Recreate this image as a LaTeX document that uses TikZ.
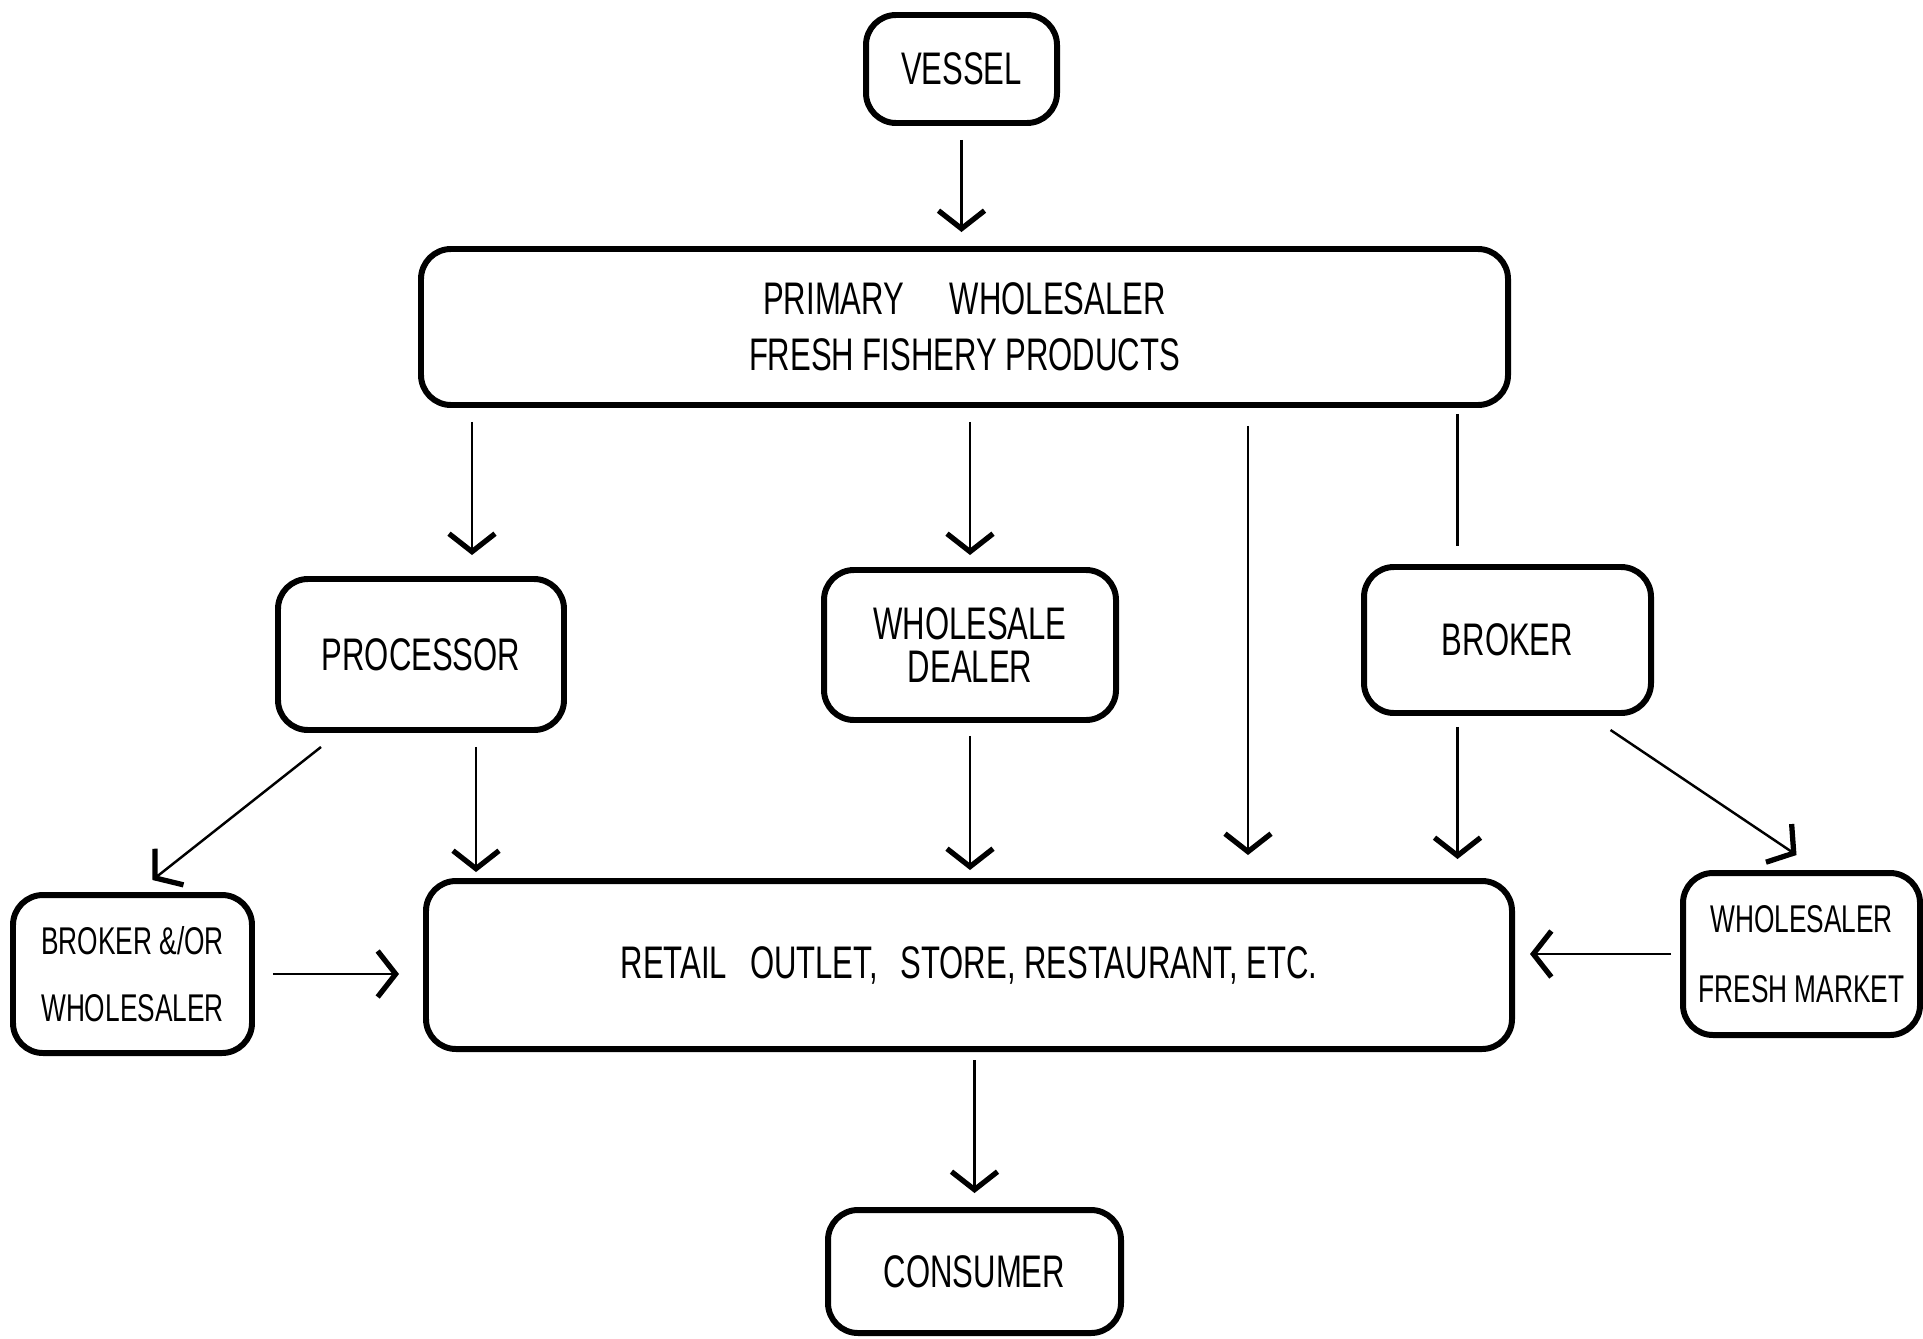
\documentclass[tikz,border=0pt]{standalone}
\usepackage{fontspec}
\newfontfamily\handfont[FakeStretch=0.68]{Liberation Sans}
\usetikzlibrary{arrows.meta}

\begin{document}
\begin{tikzpicture}[
    stage/.style={draw, line width=1.7pt, rounded corners=0.3cm, align=center, inner sep=0pt,
        font=\handfont\fontsize{13}{16}\selectfont},
    small/.style={font=\handfont\fontsize{11}{14}\selectfont},
    flow/.style={line width=0.7pt, -{Straight Barb[length=1.8mm,width=4.6mm,line width=1.5pt]},
        shorten <=0.14cm}
]

    % Fix the page size
    \useasboundingbox (0,0) rectangle (19.23,13.38);

    % Define the boxes
    \node[stage, minimum width=1.91cm, minimum height=1.08cm] (vessel) at (9.615,12.69) {VESSEL};
    \node[stage, minimum width=10.87cm, minimum height=1.56cm] (primary) at (9.645,10.11)
        {PRIMARY\quad WHOLESALER\\FRESH FISHERY PRODUCTS};
    \node[stage, minimum width=2.86cm, minimum height=1.51cm] (processor) at (4.21,6.835) {PROCESSOR};
    \node[stage, minimum width=2.92cm, minimum height=1.50cm] (dealer) at (9.70,6.93) {WHOLESALE\\[-4pt]DEALER};
    \node[stage, minimum width=2.87cm, minimum height=1.46cm] (broker) at (15.075,6.98) {BROKER};
    \node[stage, minimum width=10.86cm, minimum height=1.68cm] (retail) at (9.69,3.73)
        {RETAIL\enspace OUTLET,\enspace STORE, RESTAURANT, ETC.};
    \node[stage, small, minimum width=2.39cm, minimum height=1.58cm] (brokwh) at (1.325,3.64) {BROKER \&/OR\\[5pt]WHOLESALER};
    \node[stage, small, minimum width=2.37cm, minimum height=1.62cm] (freshmkt) at (18.015,3.84) {WHOLESALER\\[6pt]FRESH MARKET};
    \node[stage, minimum width=2.93cm, minimum height=1.23cm] (consumer) at (9.745,0.665) {CONSUMER};

    % Vessel to primary wholesaler
    \draw[flow, shorten >=0.14cm] (vessel.south) -- (vessel.south |- primary.north);

    % Out of the primary wholesaler
    \draw[flow, shorten >=0.21cm] ([xshift=0.51cm]processor.north |- primary.south) -- ([xshift=0.51cm]processor.north);
    \draw[flow, shorten >=0.12cm] (dealer.north |- primary.south) -- (dealer.north);
    \draw[flow, shorten <=0.18cm, shorten >=0.23cm] ([xshift=2.79cm]retail.north |- primary.south) -- ([xshift=2.79cm]retail.north);
    \draw[line width=0.7pt, shorten <=0.06cm, shorten >=0.18cm] ([xshift=-0.5cm]broker.north |- primary.south) -- ([xshift=-0.5cm]broker.north);

    % Into the retail outlet
    \draw[flow, shorten >=0.06cm] ([xshift=0.55cm]processor.south) -- ([xshift=0.55cm]processor.south |- retail.north);
    \draw[flow, shorten <=0.13cm, shorten >=0.08cm] (dealer.south) -- (dealer.south |- retail.north);
    \draw[flow, shorten <=0.11cm, shorten >=0.19cm] ([xshift=-0.5cm]broker.south) -- ([xshift=-0.5cm]broker.south |- retail.north);
    \draw[flow, shorten <=0.18cm, shorten >=0.24cm] (brokwh.east) -- (brokwh.east -| retail.west);
    \draw[flow, shorten <=0.09cm, shorten >=0.15cm] (freshmkt.west) -- (freshmkt.west -| retail.east);

    % Side branches
    \draw[flow, shorten <=0pt] ([xshift=-1.0cm,yshift=-0.14cm]processor.south) -- ([xshift=0.2cm,yshift=0.12cm]brokwh.north);
    \draw[flow, shorten <=0pt] ([xshift=1.03cm,yshift=-0.14cm]broker.south) -- ([xshift=-0.05cm,yshift=0.15cm]freshmkt.north);

    % Retail to consumer
    \draw[flow, shorten <=0.08cm, shorten >=0.14cm] (retail.south -| consumer) -- (consumer.north);

\end{tikzpicture}
\end{document}
